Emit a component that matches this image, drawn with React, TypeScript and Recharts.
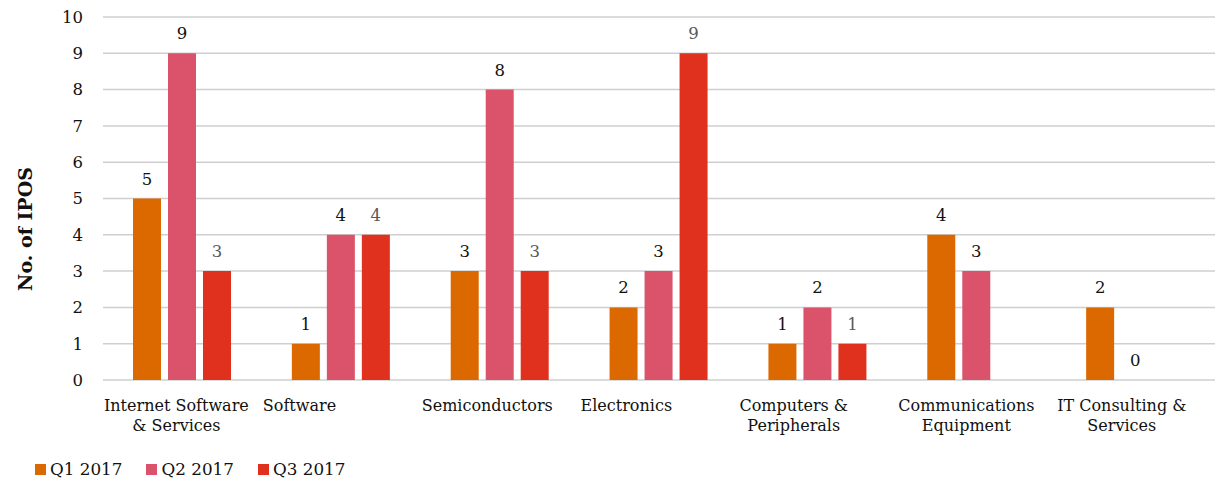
import React from "react";
import { BarChart, Bar, XAxis, YAxis, CartesianGrid, Legend, LabelList } from "recharts";

const categories = [
  "Internet Software & Services",
  "Software",
  "Semiconductors",
  "Electronics",
  "Computers & Peripherals",
  "Communications Equipment",
  "IT Consulting & Services",
];
const q1 = [5, 1, 3, 2, 1, 4, 2];
const q2 = [9, 4, 8, 3, 2, 3, 0];
const q3: (number | null)[] = [3, 4, 3, 9, 1, null, null];
const yTicks = [0, 1, 2, 3, 4, 5, 6, 7, 8, 9, 10];
const seriesNames = ["Q1 2017", "Q2 2017", "Q3 2017"];
const colors = ["#DC6900", "#DB536A", "#E0301E"];

const W = 1216;
const H = 484;
const FONT = '"DejaVu Serif", Georgia, serif';
const margin = { top: 17, right: 1, left: 0, bottom: 0 };
const Y_W = 103;
const CAT_W = (W - margin.left - margin.right - Y_W) / categories.length;

const data = categories.map((name, i) => ({ name, q1: q1[i], q2: q2[i], q3: q3[i] }));

let ctx: CanvasRenderingContext2D | null = null;
function measure(t: string, size: number) {
  if (!ctx) ctx = document.createElement("canvas").getContext("2d");
  if (!ctx) return t.length * size * 0.55;
  ctx.font = `${size}px ${FONT}`;
  return ctx.measureText(t).width;
}

function wrap(label: string, size: number, maxW: number) {
  const words = label.split(" ");
  const lines: string[] = [];
  let cur = "";
  for (const w of words) {
    const next = cur ? cur + " " + w : w;
    if (cur && measure(next, size) > maxW) {
      lines.push(cur);
      cur = w;
    } else cur = next;
  }
  if (cur) lines.push(cur);
  return lines;
}

const CatTick = (props: any) => {
  const { x, y, payload } = props;
  const size = 16;
  const lines = wrap(String(payload.value), size, CAT_W - 8);
  const blockW = Math.max(...lines.map((l) => measure(l, size)));
  const cx = x - CAT_W / 2 + 1 + blockW / 2;
  return (
    <text x={cx} y={y + 31} textAnchor="middle" fontSize={size} fill="#111" fontFamily={FONT}>
      {lines.map((l, i) => (
        <tspan key={i} x={cx} dy={i === 0 ? 0 : 20}>
          {l}
        </tspan>
      ))}
    </text>
  );
};

const LegendBox = () => (
  <div style={{ display: "flex", alignItems: "center", height: 30, paddingLeft: 35, fontFamily: FONT, fontSize: 16.8, color: "#111" }}>
    {seriesNames.map((n, i) => (
      <div key={n} style={{ display: "flex", alignItems: "center", marginRight: 24 }}>
        <span style={{ width: 11, height: 11, background: colors[i], display: "inline-block", marginRight: 4 }} />
        <span>{n}</span>
      </div>
    ))}
  </div>
);

export default function App() {
  return (
    <div style={{ position: "absolute", left: 0, top: 0, background: "#fff" }}>
      <BarChart width={W} height={H} data={data} margin={margin} barSize={28} barGap={7} style={{ fontFamily: FONT }}>
        <CartesianGrid vertical={false} stroke="#CFCFCF" strokeWidth={1.5} />
        <XAxis dataKey="name" axisLine={false} tickLine={false} tickSize={0} tickMargin={0} height={74} interval={0} tick={<CatTick />} />
        <YAxis
          width={Y_W}
          domain={[0, 10]}
          ticks={yTicks}
          interval={0}
          axisLine={false}
          tickLine={false}
          tickSize={0}
          tickMargin={20}
          tick={{ fill: "#111", fontSize: 16.5, fontFamily: FONT }}
          label={{
            content: () => (
              <text x={25} y={229} transform="rotate(-90 25 229)" textAnchor="middle" dominantBaseline="central" fontWeight="bold" fontSize={19} fill="#111" fontFamily={FONT}>
                No. of IPOS
              </text>
            ),
          }}
        />
        <Legend verticalAlign="bottom" align="left" content={<LegendBox />} />
        <Bar dataKey="q1" name={seriesNames[0]} fill={colors[0]} minPointSize={0.01} isAnimationActive={false}>
          <LabelList dataKey="q1" position="top" offset={14} fill="#111" fontSize={16.5} fontFamily={FONT} />
        </Bar>
        <Bar dataKey="q2" name={seriesNames[1]} fill={colors[1]} minPointSize={0.01} isAnimationActive={false}>
          <LabelList dataKey="q2" position="top" offset={14} fill="#111" fontSize={16.5} fontFamily={FONT} />
        </Bar>
        <Bar dataKey="q3" name={seriesNames[2]} fill={colors[2]} minPointSize={0.01} isAnimationActive={false}>
          <LabelList dataKey="q3" position="top" offset={14} fill="#595959" fontSize={16.5} fontFamily={FONT} />
        </Bar>
      </BarChart>
    </div>
  );
}
